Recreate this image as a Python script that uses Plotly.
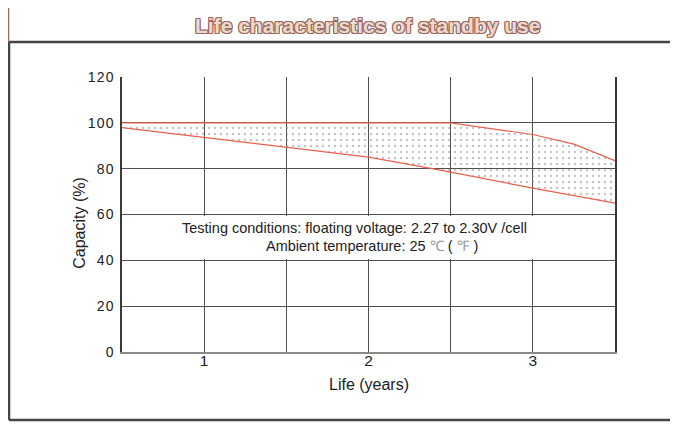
import plotly.graph_objects as go

# ---- data ----
upper_years = [0.5, 1.0, 1.5, 2.0, 2.5, 3.0, 3.25, 3.5]
upper_capacity = [100, 100, 100, 100, 100, 94.9, 90.7, 83.5]

lower_years = [0.5, 1.0, 1.5, 2.0, 2.37, 2.5, 3.0, 3.5]
lower_capacity = [97.9, 93.7, 89.4, 85.0, 80.2, 78.5, 71.5, 65.0]

x_tick_vals = [0.5, 1.0, 1.5, 2.0, 2.5, 3.0, 3.5]
x_tick_text = ["", "1", "", "2", "", "3", ""]
y_tick_vals = [0, 20, 40, 60, 80, 100, 120]
y_tick_text = ["0", "2\u200a0", "4\u200a0", "6\u200a0", "8\u200a0",
               "1\u200a0\u200a0", "1\u200a2\u200a0"]

title_text = "Life characteristics of standby use"
cond_line1 = "Testing conditions: floating voltage: 2.27 to 2.30V /cell"
cond_line2 = ("Ambient temperature: 25 <span style='color:#9a9a9a'>℃</span> "
              "( <span style='color:#9a9a9a'>℉</span> )")

RED = "#e8604c"
GRID = "#505050"
FONT = "Liberation Sans, Arial, sans-serif"

fig = go.Figure()

fig.add_trace(go.Scatter(
    x=lower_years, y=lower_capacity, mode="lines",
    line=dict(color=RED, width=1.2), hoverinfo="skip", showlegend=False))
fig.add_trace(go.Scatter(
    x=upper_years, y=upper_capacity, mode="lines",
    line=dict(color=RED, width=1.2), fill="tonexty",
    fillcolor="rgba(245,245,245,0.25)",
    fillpattern=dict(shape=".", fgcolor="#8a8a8a", bgcolor="rgba(0,0,0,0)",
                     size=6, solidity=0.14),
    hoverinfo="skip", showlegend=False))

shapes = [
    # white box behind the testing conditions text
    dict(type="rect", xref="x", yref="y", x0=0.5, x1=3.5, y0=40.6, y1=59.4,
         fillcolor="white", line=dict(width=0), layer="between"),
    # outer frame
    dict(type="line", xref="paper", yref="paper", x0=-0.2292, x1=-0.2292,
         y0=-0.2473, y1=1.1273, line=dict(color="#454545", width=2.5)),
    dict(type="line", xref="paper", yref="paper", x0=-0.2292, x1=1.1258,
         y0=1.1273, y1=1.1273, line=dict(color="#454545", width=2.5)),
    dict(type="line", xref="paper", yref="paper", x0=-0.2292, x1=1.1258,
         y0=-0.2473, y1=-0.2473, line=dict(color="#454545", width=2.5)),
    dict(type="line", xref="paper", yref="paper", x0=1.1258, x1=1.1258,
         y0=-0.2473, y1=1.1273, line=dict(color="#d0d0d0", width=1)),
    # brown vertical line at top-left
    dict(type="line", xref="paper", yref="paper", x0=-0.2302, x1=-0.2302,
         y0=1.1273, y1=1.3, line=dict(color="#a06a5a", width=1.5)),
]

outline = "#9c6b5e"
annotations = [
    dict(text=f"<b>{title_text}</b>", xref="paper", yref="paper",
         x=0.497, y=1.189, showarrow=False, xanchor="center", yanchor="middle",
         font=dict(family=FONT, size=21, color="#ecd9d2",
                   shadow=(f"1px 0 0 {outline}, -1px 0 0 {outline}, "
                           f"0 1px 0 {outline}, 0 -1px 0 {outline}, "
                           f"1px 1px 0 {outline}, -1px -1px 0 {outline}, "
                           f"1px -1px 0 {outline}, -1px 1px 0 {outline}"))),
    dict(text=cond_line1, xref="x", yref="y", x=1.912, y=53.9, showarrow=False,
         xanchor="center", yanchor="middle",
         font=dict(family=FONT, size=14.5, color="#222222")),
    dict(text=cond_line2, xref="x", yref="y", x=2.021, y=46.2, showarrow=False,
         xanchor="center", yanchor="middle",
         font=dict(family=FONT, size=14.5, color="#222222")),
    dict(text="Life (years)", xref="paper", yref="paper", x=0.501, y=-0.118,
         showarrow=False, xanchor="center", yanchor="middle",
         font=dict(family=FONT, size=16, color="#222222")),
    dict(text="Capacity (%)", xref="paper", yref="paper", x=-0.0852, y=0.47,
         showarrow=False, xanchor="center", yanchor="middle", textangle=-90,
         font=dict(family=FONT, size=16, color="#222222")),
]

# the page adds an 8px body margin, so the figure is 8px smaller and shifted
fig.update_layout(
    width=670, height=419,
    margin=dict(l=114, r=63, t=69, b=75),
    paper_bgcolor="white", plot_bgcolor="white",
    shapes=shapes, annotations=annotations,
    xaxis=dict(range=[0.5, 3.5], tickvals=x_tick_vals, ticktext=x_tick_text,
               showgrid=True, gridcolor=GRID, gridwidth=1.3, zeroline=False,
               showline=True, linecolor="#8a8a8a", linewidth=1.5, mirror=False,
               ticks="", ticklen=0, ticklabelstandoff=-6,
               tickfont=dict(family=FONT, size=15.5, color="#222222"),
               fixedrange=True),
    yaxis=dict(range=[0, 120], tickvals=y_tick_vals, ticktext=y_tick_text,
               showgrid=True, gridcolor=GRID, gridwidth=1.3, zeroline=False,
               showline=True, linecolor="#3a3a3a", linewidth=1.5, mirror=True,
               ticks="", ticklen=0, ticklabelstandoff=4,
               tickfont=dict(family=FONT, size=14, color="#222222"),
               fixedrange=True),
)

fig.write_html("out.html")
